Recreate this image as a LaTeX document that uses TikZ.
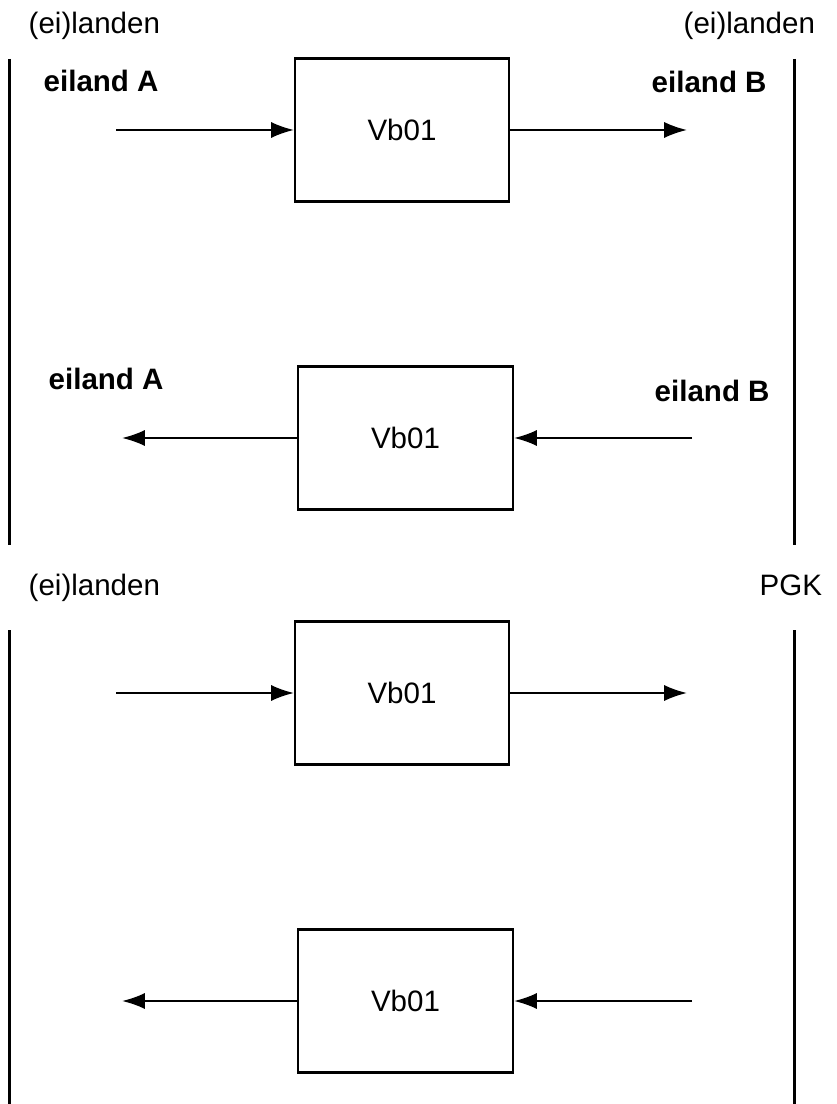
\documentclass[tikz,border=0pt]{standalone}
\usepackage{fontspec}
\setmainfont{Liberation Sans}
\usetikzlibrary{arrows.meta}
\tikzset{
  blok/.style={rectangle, draw=black, line width=0.6pt, minimum width=2.14cm, minimum height=1.43cm, inner sep=0pt, font=\fontsize{8.4pt}{10pt}\selectfont},
  connect/.style={-{Latex[length=6.5pt,width=4.6pt]}, line width=0.6pt},
  grens/.style={line width=0.6pt},
  lbl/.style={anchor=base west, inner sep=0pt, font=\fontsize{8.4pt}{10pt}\selectfont},
  lblb/.style={lbl, font=\fontsize{8.4pt}{10pt}\selectfont\bfseries}
}

\begin{document}
\begin{tikzpicture}
  \useasboundingbox (0,0) rectangle (8.36,-11.04);

  % Heen: eiland A -> eiland B
  \foreach \n/\y in {1/1.30, 3/6.93} {
    \node[blok] (vb\n) at (4.02,-\y) {Vb01};
    \coordinate (in\n) at (1.16,-\y);
    \coordinate (out\n) at (6.87,-\y);
    \draw[connect] (in\n) -- (vb\n);
    \draw[connect] (vb\n) -- (out\n);
  }

  % Terug: eiland B -> eiland A
  \foreach \n/\y in {2/4.38, 4/10.01} {
    \node[blok, minimum width=2.15cm] (vb\n) at (4.055,-\y) {Vb01};
    \coordinate (in\n) at (6.92,-\y);
    \coordinate (out\n) at (1.22,-\y);
    \draw[connect] (in\n) -- (vb\n);
    \draw[connect] (vb\n) -- (out\n);
  }

  % Grenzen
  \coordinate (links1) at (0.095,-0.59);
  \coordinate (links1e) at (0.095,-5.45);
  \coordinate (rechts1) at (7.945,-0.59);
  \coordinate (rechts1e) at (7.945,-5.45);
  \coordinate (links2) at (0.095,-6.30);
  \coordinate (links2e) at (0.095,-11.04);
  \coordinate (rechts2) at (7.945,-6.30);
  \coordinate (rechts2e) at (7.945,-11.04);
  \draw[grens] (links1) -- (links1e);
  \draw[grens] (rechts1) -- (rechts1e);
  \draw[grens] (links2) -- (links2e);
  \draw[grens] (rechts2) -- (rechts2e);

  % Labels
  \node[lbl] (land1) at (0.28,-0.34) {(ei)landen};
  \node[lbl] (land2) at (6.83,-0.34) {(ei)landen};
  \node[lbl] (land3) at (0.28,-5.96) {(ei)landen};
  \node[lbl] (pgk) at (7.59,-5.96) {PGK};
  \node[lblb] (eilA1) at (0.43,-0.92) {eiland A};
  \node[lblb] (eilB1) at (6.51,-0.93) {eiland B};
  \node[lblb] (eilA2) at (0.48,-3.90) {eiland A};
  \node[lblb] (eilB2) at (6.54,-4.02) {eiland B};
\end{tikzpicture}
\end{document}
